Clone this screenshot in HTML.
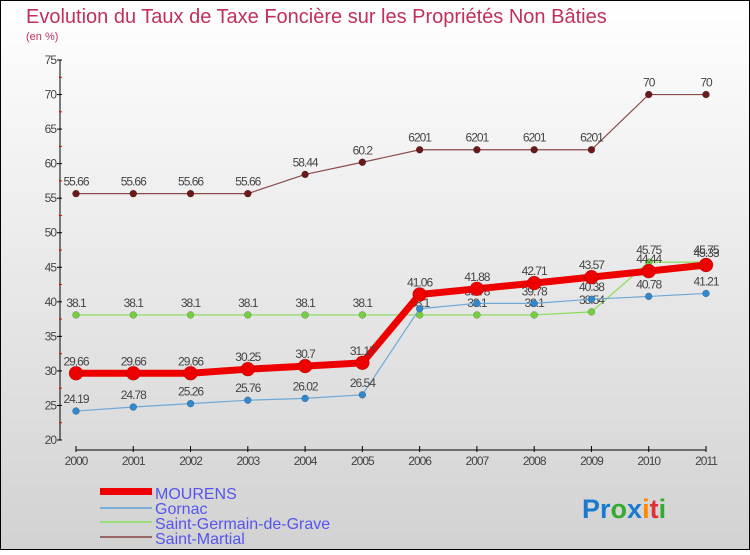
<!DOCTYPE html>
<html><head><meta charset="utf-8"><style>
html,body{margin:0;padding:0}
body{width:750px;height:550px;overflow:hidden;font-family:"Liberation Sans",sans-serif}
</style></head><body>
<svg id="c" width="750" height="550" xmlns="http://www.w3.org/2000/svg">
<defs><linearGradient id="bg" x1="0" y1="0" x2="0" y2="1"><stop offset="0" stop-color="#ffffff"/><stop offset="1" stop-color="#d2d2d2"/></linearGradient></defs>
<rect x="0.5" y="0.5" width="749" height="549" fill="url(#bg)" stroke="#000"/>
<text x="26" y="23" font-size="20" fill="#c0305a">Evolution du Taux de Taxe Foncière sur les Propriétés Non Bâties</text>
<text x="26" y="40" font-size="11" fill="#c0305a">(en %)</text>
<g id="axes"></g>
<g id="series"></g>
<g id="legend" font-size="16" fill="#5555ee">
<rect x="100" y="488" width="52" height="7" fill="#e00"/>
<text x="155" y="499" fill="#5555ee">MOURENS</text>
<rect x="100" y="507" width="52" height="2" fill="#7aaed6"/>
<text x="155" y="514" fill="#5555ee">Gornac</text>
<rect x="100" y="521" width="52" height="2" fill="#99dd77"/>
<text x="155" y="529" fill="#5555ee">Saint-Germain-de-Grave</text>
<rect x="100" y="536" width="52" height="2" fill="#996666"/>
<text x="155" y="544" fill="#5555ee">Saint-Martial</text>
</g>
<text x="582" y="518" font-size="27" font-weight="bold"><tspan fill="#1a7ad0">Pr</tspan><tspan fill="#33aa33">o</tspan><tspan fill="#1a7ad0">x</tspan><tspan fill="#ff8800">i</tspan><tspan fill="#dd3333">t</tspan><tspan fill="#33aa33">i</tspan></text>
</svg>
<script>
const years=["2000","2001","2002","2003","2004","2005","2006","2007","2008","2009","2010","2011"];
const yTicks=[20,25,30,35,40,45,50,55,60,65,70,75];
const mourens=[29.66,29.66,29.66,30.25,30.7,31.17,41.06,41.88,42.71,43.57,44.44,45.33];
const gornac=[24.19,24.78,25.26,25.76,26.02,26.54,39,39.78,39.78,40.38,40.78,41.21];
const sgg=[38.1,38.1,38.1,38.1,38.1,38.1,38.1,38.1,38.1,38.54,45.75,45.75];
const martial=[55.66,55.66,55.66,55.66,58.44,60.2,62.01,62.01,62.01,62.01,70,70];
const NS="http://www.w3.org/2000/svg";
const X=i=>76+i*(630/11);
const Y=v=>440-(v-20)*(380/55);
function mk(t,a,p){const e=document.createElementNS(NS,t);for(const k in a)e.setAttribute(k,a[k]);p.appendChild(e);return e;}
const ax=document.getElementById('axes');
let yl=mk('line',{x1:60,y1:60,x2:60,y2:440,stroke:'#000'},ax);


yTicks.forEach(v=>{
  mk('line',{x1:57,y1:Y(v),x2:62,y2:Y(v),stroke:'#000'},ax);
  if(v<75)mk('line',{x1:59,y1:Y(v+2.5),x2:62,y2:Y(v+2.5),stroke:'#e00'},ax);
  const t=mk('text',{x:56,y:Y(v)+4,'font-size':12,'text-anchor':'end',fill:'#444','letter-spacing':'-1'},ax);
  t.textContent=v;
  
  
});
let xl=mk('line',{x1:76,y1:450,x2:706,y2:450,stroke:'#000'},ax);


years.forEach((y,i)=>{
  mk('line',{x1:X(i),y1:446,x2:X(i),y2:452,stroke:'#000'},ax);
  const t=mk('text',{x:X(i),y:465,'font-size':12,'text-anchor':'middle',fill:'#444','letter-spacing':'-1'},ax);
  t.textContent=y;
  
  
});
const sg=document.getElementById('series');
function series(d,color,dot,w,r,name,fmt){
  const g=mk('g',{},sg);
  
  
  const l=mk('polyline',{points:d.map((v,i)=>X(i)+','+Y(v)).join(' '),fill:'none',stroke:color,'stroke-width':w},g);
  
  
  d.forEach((v,i)=>{
    const c=mk('circle',{cx:X(i),cy:Y(v),r:r,fill:dot,stroke:'rgba(0,0,0,0.3)','stroke-width':0.5},g);
    
    
    const t=mk('text',{x:X(i),y:Y(v)-8,'font-size':12,'text-anchor':'middle',fill:'#444','letter-spacing':'-1'},g);
    t.textContent=fmt?fmt(v):String(v);
    
    
  });
}
series(martial,'#8b4a4a','#6b1a1a',1.2,3.5,'saint-martial',v=>v===62.01?'6201':String(v));
series(sgg,'#88dd55','#77cc44',1.2,3.5,'saint-germain-de-grave');
series(gornac,'#6fa8d6','#3388cc',1.2,3.5,'gornac');
series(mourens,'#ee0000','#ee0000',7,7,'mourens');
</script>
</body></html>
